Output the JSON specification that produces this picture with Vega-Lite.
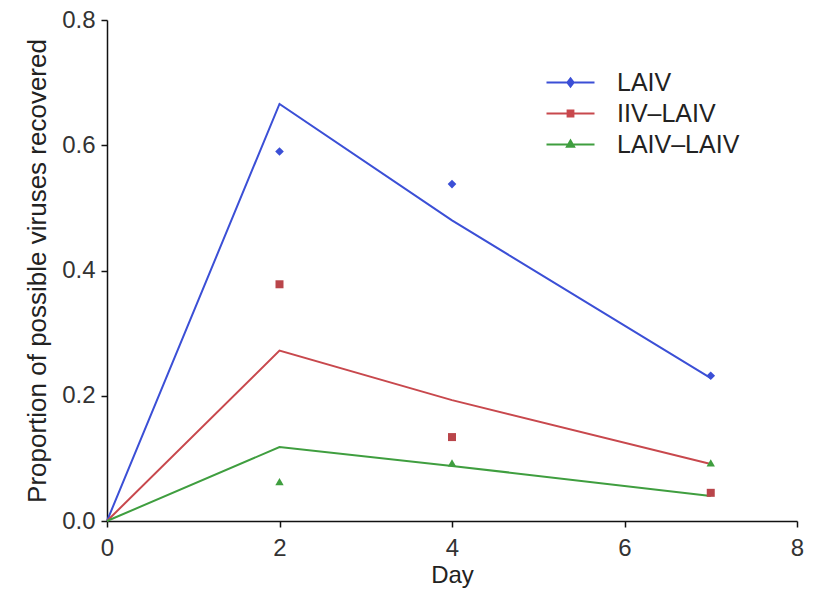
{
  "$schema": "https://vega.github.io/schema/vega-lite/v6.json",
  "width": 690,
  "height": 501,
  "autosize": {"type": "none"},
  "padding": {"left": 107, "top": 20, "right": 24, "bottom": 72},
  "background": "white",
  "config": {
    "font": "Liberation Sans",
    "view": {"stroke": null},
    "axis": {
      "grid": false,
      "domainColor": "#111",
      "domainWidth": 1.5,
      "tickColor": "#111",
      "tickWidth": 1.5,
      "tickSize": 6,
      "labelFontSize": 24,
      "labelColor": "#333",
      "labelFlush": false,
      "titleFontSize": 24,
      "titleFontWeight": "normal",
      "titleColor": "#222",
      "labelPadding": 6
    }
  },
  "data": {
    "values": [
      {"day": 0, "value": 0, "series": "LAIV", "kind": "fit"},
      {"day": 2, "value": 0.666, "series": "LAIV", "kind": "fit"},
      {"day": 4, "value": 0.48, "series": "LAIV", "kind": "fit"},
      {"day": 7, "value": 0.228, "series": "LAIV", "kind": "fit"},
      {"day": 0, "value": 0, "series": "IIV\u2013LAIV", "kind": "fit"},
      {"day": 2, "value": 0.272, "series": "IIV\u2013LAIV", "kind": "fit"},
      {"day": 4, "value": 0.193, "series": "IIV\u2013LAIV", "kind": "fit"},
      {"day": 7, "value": 0.091, "series": "IIV\u2013LAIV", "kind": "fit"},
      {"day": 0, "value": 0, "series": "LAIV\u2013LAIV", "kind": "fit"},
      {"day": 2, "value": 0.118, "series": "LAIV\u2013LAIV", "kind": "fit"},
      {"day": 4, "value": 0.088, "series": "LAIV\u2013LAIV", "kind": "fit"},
      {"day": 7, "value": 0.04, "series": "LAIV\u2013LAIV", "kind": "fit"},
      {"day": 2, "value": 0.59, "series": "LAIV", "kind": "obs"},
      {"day": 4, "value": 0.538, "series": "LAIV", "kind": "obs"},
      {"day": 7, "value": 0.232, "series": "LAIV", "kind": "obs"},
      {"day": 2, "value": 0.378, "series": "IIV\u2013LAIV", "kind": "obs"},
      {"day": 4, "value": 0.134, "series": "IIV\u2013LAIV", "kind": "obs"},
      {"day": 7, "value": 0.045, "series": "IIV\u2013LAIV", "kind": "obs"},
      {"day": 2, "value": 0.063, "series": "LAIV\u2013LAIV", "kind": "obs"},
      {"day": 4, "value": 0.093, "series": "LAIV\u2013LAIV", "kind": "obs"},
      {"day": 7, "value": 0.093, "series": "LAIV\u2013LAIV", "kind": "obs"}
    ]
  },
  "encoding": {
    "x": {
      "field": "day", "type": "quantitative",
      "scale": {"domain": [0, 8], "nice": false},
      "axis": {"values": [0, 2, 4, 6, 8], "title": "Day", "titlePadding": 3, "labelPadding": 9}
    },
    "y": {
      "field": "value", "type": "quantitative",
      "scale": {"domain": [0, 0.8], "nice": false},
      "axis": {"values": [0, 0.2, 0.4, 0.6, 0.8], "format": ".1f", "title": "Proportion of possible viruses recovered", "titlePadding": 11, "titleFontSize": 26}
    }
  },
  "layer": [
    {
      "transform": [{"filter": "datum.kind === 'fit'"}],
      "mark": {"type": "line", "strokeWidth": 2},
      "encoding": {
        "color": {
          "field": "series", "type": "nominal",
          "scale": {
            "domain": ["LAIV", "IIV\u2013LAIV", "LAIV\u2013LAIV"],
            "range": ["#3b4fd6", "#c8484d", "#3f9e3f"]
          },
          "legend": {
            "title": null,
            "orient": "none",
            "legendX": 451,
            "legendY": 50,
            "padding": 0,
            "labelFontSize": 25,
            "labelColor": "#222",
            "symbolSize": 100,
            "symbolStrokeWidth": 2,
            "rowPadding": 5,
            "labelOffset": 34,
            "encode": {
              "symbols": {
                "update": {
                  "shape": {"signal": "datum.value === 'LAIV' ? 'M-4.8,0H4.8M0,-0.82L0.62,0L0,0.82L-0.62,0Z' : (datum.value === 'LAIV\u2013LAIV' ? 'M-4.8,0H4.8M0,-0.82L0.72,0.43L-0.72,0.43Z' : 'M-4.8,0H4.8M-0.58,-0.58H0.58V0.58H-0.58Z')"},
                  "fill": {"signal": "scale('color', datum.value)"},
                  "fillOpacity": {"value": 1},
                  "stroke": {"signal": "scale('color', datum.value)"},
                  "strokeWidth": {"value": 2}
                }
              }
            }
          }
        }
      }
    },
    {
      "transform": [{"filter": "datum.kind === 'obs' && datum.series === 'LAIV'"}],
      "mark": {"type": "point", "filled": true, "opacity": 1, "size": 75, "shape": "diamond", "color": "#3b4fd6"}
    },
    {
      "transform": [{"filter": "datum.kind === 'obs' && datum.series === 'IIV\u2013LAIV'"}],
      "mark": {"type": "point", "filled": true, "opacity": 1, "size": 64, "shape": "square", "color": "#b9454a"}
    },
    {
      "transform": [{"filter": "datum.kind === 'obs' && datum.series === 'LAIV\u2013LAIV'"}],
      "mark": {"type": "point", "filled": true, "opacity": 1, "size": 70, "shape": "triangle-up", "color": "#3f9e3f"}
    }
  ]
}
